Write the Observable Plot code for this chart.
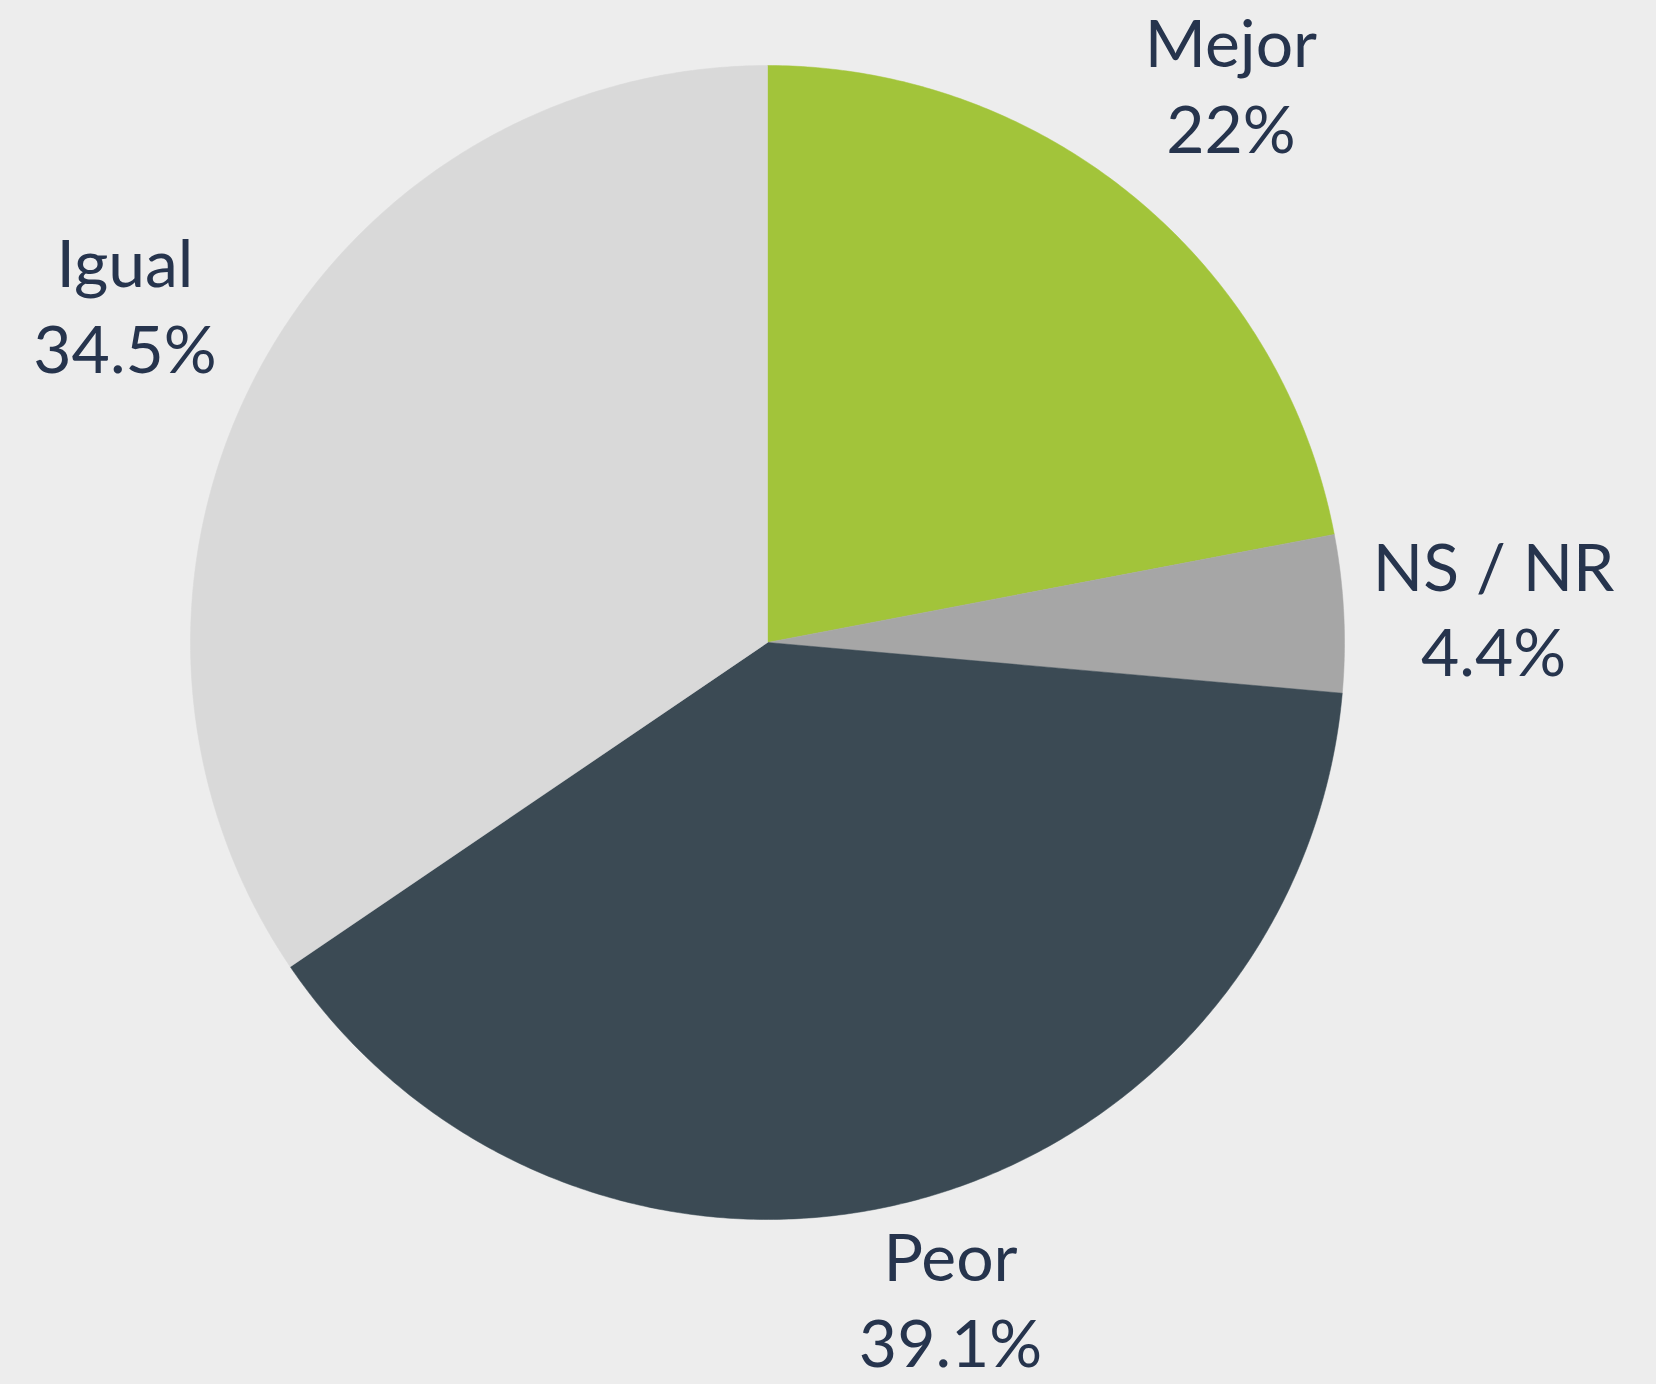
<!DOCTYPE html>
<html>
<head>
<meta charset="utf-8">
<script src="https://cdn.jsdelivr.net/npm/d3@7"></script>
<script src="https://cdn.jsdelivr.net/npm/@observablehq/plot@0.6"></script>
<style>
  html, body { margin: 0; padding: 0; background: #ededed; }
  #chart svg { display: block; background: #ededed; }
</style>
</head>
<body>
<div id="chart"></div>
<script>
// Data
const categories = ["Mejor", "NS / NR", "Peor", "Igual"];
const values = [22, 4.4, 39.1, 34.5];
const valueLabels = ["22%", "4.4%", "39.1%", "34.5%"];
const colors = ["#a2c43a", "#a6a6a6", "#3b4a54", "#d9d9d9"];

const W = 1656, H = 1384;
const R = 577, cx = 767, cy = 642;
const xDomain = [-cx / R, (W - cx) / R];
const yDomain = [-(H - cy) / R, cy / R];

const pie = d3.pie().sort(null).value(d => d.value).startAngle(0).endAngle(2 * Math.PI);
const arcs = pie(categories.map((c, i) => ({category: c, value: values[i], label: valueLabels[i], color: colors[i]})));

// Slice outlines in data coordinates (unit circle)
const slicePaths = arcs.map(a => {
  const pts = [{x: 0, y: 0}];
  const n = Math.max(4, Math.ceil((a.endAngle - a.startAngle) / (2 * Math.PI) * 720));
  for (let k = 0; k <= n; k++) {
    const t = a.startAngle + (a.endAngle - a.startAngle) * k / n;
    pts.push({x: Math.sin(t), y: Math.cos(t)});
  }
  pts.push({x: 0, y: 0});
  return {arc: a, pts};
});

const labelR = 1.26;
const yMinLabel = yDomain[0] + 0.152;
const labels = arcs.map(a => {
  const m = (a.startAngle + a.endAngle) / 2;
  return {
    x: Math.sin(m) * labelR,
    y: Math.max(Math.cos(m) * labelR, yMinLabel),
    text: a.data.category + "\n" + a.data.label
  };
});

const chart = Plot.plot({
  width: W,
  height: H,
  margin: 0,
  x: {domain: xDomain, axis: null},
  y: {domain: yDomain, axis: null},
  style: {background: "#ededed", fontFamily: "Lato, sans-serif"},
  marks: [
    ...slicePaths.map(s => Plot.line(s.pts, {
      x: "x", y: "y", fill: s.arc.data.color, stroke: s.arc.data.color, strokeWidth: 0.5, curve: "linear"
    })),
    Plot.text(labels, {
      x: "x", y: "y", text: "text",
      fontSize: 66, lineHeight: 1.3, lineAnchor: "middle", textAnchor: "middle",
      fill: "#26344d", fontFamily: "Lato, sans-serif"
    })
  ]
});
document.getElementById("chart").appendChild(chart);
</script>
</body>
</html>
